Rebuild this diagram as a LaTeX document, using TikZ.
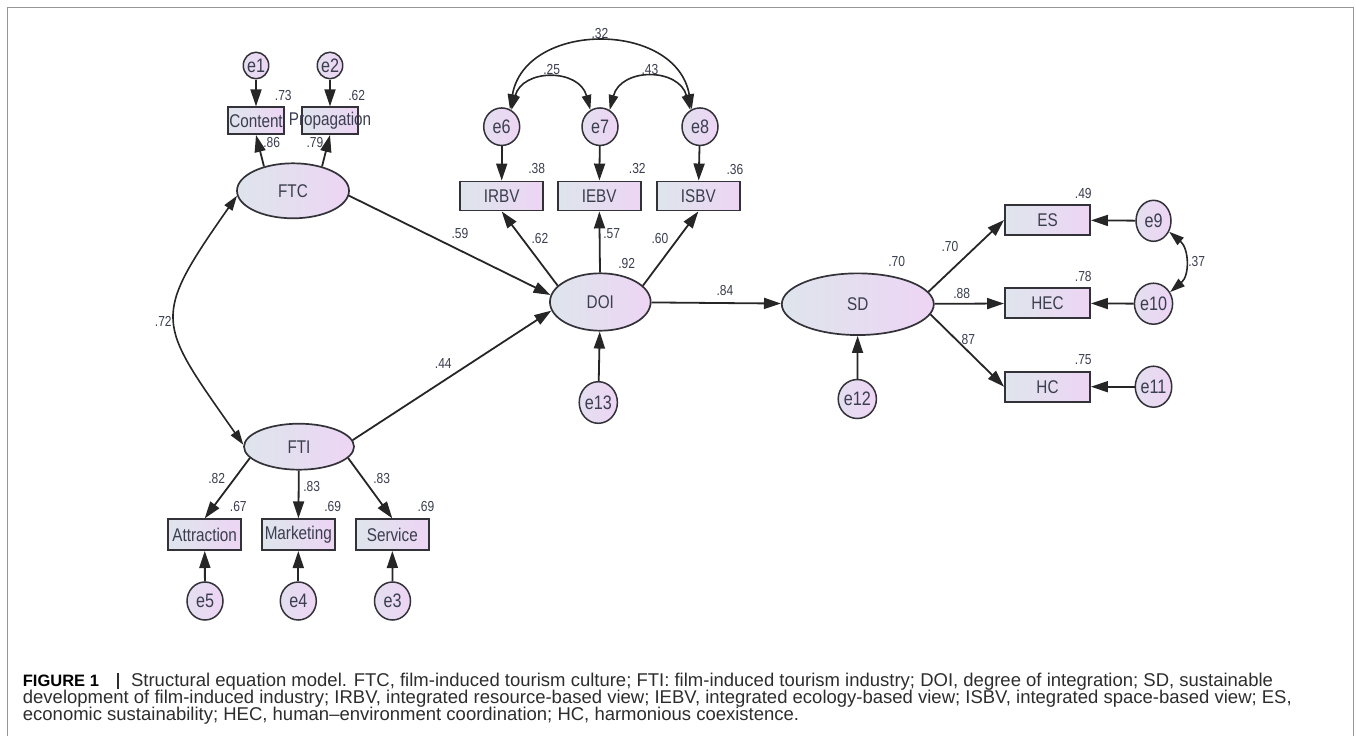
\documentclass[tikz,border=0pt]{standalone}
\usepackage{fontspec}
\setmainfont{Liberation Sans}
\newfontfamily\amosfont[FakeStretch=0.83]{Liberation Sans}
\usetikzlibrary{shapes.geometric}
\usetikzlibrary{arrows.meta}
\definecolor{shadeL}{RGB}{222,229,236}
\definecolor{shadeR}{RGB}{237,213,244}
\definecolor{edgegray}{RGB}{50,50,56}
\definecolor{labelgray}{RGB}{58,62,78}
\definecolor{framegray}{RGB}{150,150,150}
\definecolor{captext}{RGB}{45,45,45}

\begin{document}
\begin{tikzpicture}[x=1pt, y=1pt,
	latent/.style={ellipse, draw=edgegray, line width=1.7pt, left color=shadeL, right color=shadeR, inner sep=0pt, text=labelgray, font=\amosfont\fontsize{18.4}{18}\selectfont},
	errvar/.style={ellipse, draw=edgegray, line width=1.5pt, left color=shadeL!60!shadeR, right color=shadeR, inner sep=0pt, minimum width=36pt, minimum height=40pt, text=labelgray, font=\amosfont\fontsize{19.5}{19}\selectfont},
	obsbox/.style={rectangle, draw=edgegray, line width=1.9pt, left color=shadeL, right color=shadeR, inner sep=0pt, text=labelgray, font=\amosfont\fontsize{18.4}{18}\selectfont},
	coef/.style={inner sep=0pt, text=labelgray, font=\amosfont\fontsize{14.5}{14}\selectfont},
	effect/.style={draw=black!85, line width=1.8pt, -{Triangle[length=17pt,width=11pt]}},
	cov/.style={draw=black!85, line width=1.6pt, {Triangle[length=15pt,width=9.5pt]}-{Triangle[length=15pt,width=9.5pt]}},
	captxt/.style={inner sep=0pt, text=captext, font=\fontsize{18.5}{17}\selectfont}]
	\useasboundingbox (0,0) rectangle (1356,-736);
	\draw[framegray, line width=1.4pt] (7.5,-736) -- (7.5,-7.5) -- (1353.5,-7.5) -- (1353.5,-736);

	% film-induced tourism culture
	\node[errvar, minimum width=25pt, minimum height=26.5pt] (e1) at (256,-65.5) {e1};
	\node[errvar, minimum width=25pt, minimum height=26.5pt] (e2) at (330,-65.5) {e2};
	\node[obsbox, minimum width=56.7pt, minimum height=26.7pt] (Content) at (256,-120.7) {Content};
	\node[obsbox, minimum width=56.7pt, minimum height=26.7pt] (Propagation) at (330,-120.7) {\makebox[0pt]{Propagation}};
	\node[latent, minimum width=112pt, minimum height=55pt] (FTC) at (293,-190.8) {FTC};

	% film-induced tourism industry
	\node[latent, minimum width=110pt, minimum height=46pt] (FTI) at (299,-446.7) {FTI};
	\node[obsbox, minimum width=72.7pt, minimum height=30.7pt] (Attraction) at (204.7,-534.7) {Attraction};
	\node[obsbox, minimum width=72.7pt, minimum height=30.7pt] (Marketing) at (298.3,-534.7) {Marketing};
	\node[obsbox, minimum width=72.7pt, minimum height=30.7pt] (Service) at (392.3,-534.7) {Service};
	\node[errvar, minimum height=38pt] (e5) at (205,-601) {e5};
	\node[errvar, minimum height=38pt] (e4) at (298.3,-601) {e4};
	\node[errvar, minimum height=38pt] (e3) at (392.5,-601) {e3};

	% degree of integration
	\node[errvar, minimum height=37.5pt] (e6) at (501.7,-126.7) {e6};
	\node[errvar, minimum height=37.5pt] (e7) at (600,-126.7) {e7};
	\node[errvar, minimum height=37.5pt] (e8) at (700,-126.7) {e8};
	\node[obsbox, minimum width=83pt, minimum height=29pt] (IRBV) at (501.7,-196) {IRBV};
	\node[obsbox, minimum width=83pt, minimum height=29pt] (IEBV) at (599.2,-196) {IEBV};
	\node[obsbox, minimum width=83pt, minimum height=29pt] (ISBV) at (698.3,-196) {ISBV};
	\node[latent, minimum width=100.7pt, minimum height=57.4pt] (DOI) at (600.3,-302) {DOI};
	\node[errvar, minimum height=41.6pt] (e13) at (598.3,-402.5) {e13};

	% sustainable development
	\node[latent, minimum width=152pt, minimum height=61.7pt] (SD) at (857.8,-304.2) {SD};
	\node[errvar, minimum width=34pt, minimum height=39pt] (e12) at (857.3,-399) {e12};
	\node[obsbox, minimum width=85pt, minimum height=30pt] (ES) at (1047.5,-220) {ES};
	\node[obsbox, minimum width=85pt, minimum height=30pt] (HEC) at (1047.5,-303.3) {HEC};
	\node[obsbox, minimum width=85pt, minimum height=30pt] (HC) at (1047.5,-386.7) {HC};
	\node[errvar, minimum width=35pt, minimum height=41pt] (e9) at (1153.5,-220.8) {e9};
	\node[errvar, minimum width=35pt, minimum height=41pt] (e10) at (1153.5,-303.7) {e10};
	\node[errvar, minimum width=35pt, minimum height=41pt] (e11) at (1153.5,-386.7) {e11};

	% paths
	\draw[effect] (e1) -- (Content);
	\draw[effect] (e2) -- (Propagation);
	\draw[effect] (FTC.140) -- (Content.south);
	\draw[effect] (FTC.40) -- (Propagation.south);
	\draw[cov] (FTC.185) to[out=235, in=125, looseness=1.55] (FTI.178);
	\draw[effect] (FTC.-5) -- (DOI.172);
	\draw[effect] (FTI.7) -- (DOI.190);
	\draw[effect] (FTI.193) -- (Attraction.north);
	\draw[effect] (FTI) -- (Marketing);
	\draw[effect] (FTI.-13) -- (Service.north);
	\draw[effect] (e5) -- (Attraction);
	\draw[effect] (e4) -- (Marketing);
	\draw[effect] (e3) -- (Service);
	\draw[effect] (e6) -- (IRBV);
	\draw[effect] (e7) -- (IEBV);
	\draw[effect] (e8) -- (ISBV);
	\draw[cov] (e6.65) to[out=80, in=100, looseness=1.27] (e8.115);
	\draw[cov] (e6.60) to[out=75, in=105, looseness=1.4] (e7.120);
	\draw[cov] (e7.60) to[out=75, in=105, looseness=1.4] (e8.120);
	\draw[effect] (DOI.159) -- (IRBV.south);
	\draw[effect] (DOI) -- (IEBV);
	\draw[effect] (DOI.21) -- (ISBV.south);
	\draw[effect] (e13) -- (DOI);
	\draw[effect] (DOI) -- (SD);
	\draw[effect] (e12) -- (SD);
	\draw[effect] (SD.10) -- (ES.west);
	\draw[effect] (SD) -- (HEC);
	\draw[effect] (SD.-8) -- (HC.west);
	\draw[effect] (e9) -- (ES);
	\draw[effect] (e10) -- (HEC);
	\draw[effect] (e11) -- (HC);
	\draw[cov] (e9.-35) to[out=-40, in=40, looseness=1.1] (e10.35);

	% estimates
	\node[coef] (sqContent) at (283.3,-96) {.73};
	\node[coef] (sqPropagation) at (356.7,-96) {.62};
	\node[coef] (ldContent) at (271.7,-142.7) {.86};
	\node[coef] (ldPropagation) at (315,-142.7) {.79};
	\node[coef] (cvSixEight) at (600,-33.3) {.32};
	\node[coef] (cvSixSeven) at (551.7,-69.3) {.25};
	\node[coef] (cvSevenEight) at (650,-69.3) {.43};
	\node[coef] (sqIRBV) at (536.7,-169) {.38};
	\node[coef] (sqIEBV) at (637.3,-169) {.32};
	\node[coef] (sqISBV) at (735,-169.3) {.36};
	\node[coef] (bFTC) at (460,-234) {.59};
	\node[coef] (ldIRBV) at (540,-238.3) {.62};
	\node[coef] (ldIEBV) at (611.7,-234) {.57};
	\node[coef] (ldISBV) at (660,-238.3) {.60};
	\node[coef] (sqDOI) at (626.7,-263.3) {.92};
	\node[coef] (bDOI) at (725,-290.7) {.84};
	\node[coef] (cvFTCFTI) at (163.3,-321.7) {.72};
	\node[coef] (bFTI) at (443.3,-363.3) {.44};
	\node[coef] (ldAttraction) at (216.7,-478.3) {.82};
	\node[coef] (ldMarketing) at (311.7,-486.7) {.83};
	\node[coef] (ldService) at (381.7,-478.3) {.83};
	\node[coef] (sqAttraction) at (238.3,-506.7) {.67};
	\node[coef] (sqMarketing) at (332.7,-506.7) {.69};
	\node[coef] (sqService) at (426,-506.7) {.69};
	\node[coef] (sqES) at (1083.3,-193.3) {.49};
	\node[coef] (ldES) at (950,-246.7) {.70};
	\node[coef] (sqSD) at (896.7,-261.7) {.70};
	\node[coef] (sqHEC) at (1083.3,-276.7) {.78};
	\node[coef] (ldHEC) at (961.7,-293.3) {.88};
	\node[coef] (ldHC) at (966.7,-339.3) {.87};
	\node[coef] (sqHC) at (1083.3,-359.3) {.75};
	\node[coef] (cvNineTen) at (1196.7,-261.7) {.37};

	% caption
	\node[captxt, anchor=base west] (capOne) at (22.7,-686) {\textcolor{black}{\fontsize{16.5}{17}\selectfont\bfseries FIGURE 1}\hspace{18.5pt}\rule[-3pt]{1.6pt}{16pt}\hspace{12pt}Structural equation model. FTC, film-induced tourism culture; FTI: film-induced tourism industry; DOI, degree of integration; SD, sustainable};
	\node[captxt, anchor=base west] (capTwo) at (22.7,-703) {development of film-induced industry; IRBV, integrated resource-based view; IEBV, integrated ecology-based view; ISBV, integrated space-based view; ES,};
	\node[captxt, anchor=base west] (capThree) at (22.7,-720) {economic sustainability; HEC, human–environment coordination; HC, harmonious coexistence.};
\end{tikzpicture}
\end{document}
